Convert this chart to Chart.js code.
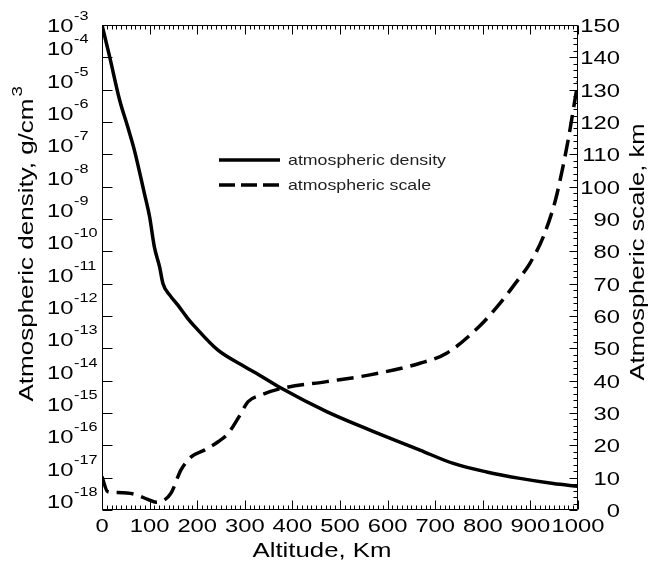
<!DOCTYPE html>
<html><head><meta charset="utf-8">
<script src="https://cdn.jsdelivr.net/npm/chart.js@4.4.1/dist/chart.umd.min.js"></script>
<style>html,body{margin:0;padding:0;background:#fff}</style>
</head><body>
<canvas id="c" width="650" height="567"></canvas>
<script>
// ---- data ----
const densityAltitude = [0, 16, 37, 54, 68, 89, 100, 110, 121, 128, 142, 159, 180, 195, 243, 300, 331, 377, 472, 563, 668, 738, 808, 878, 948, 1000];
const densityValues = [1.0e-3, 1.05e-4, 4.8e-6, 7.1e-7, 1.35e-7, 6.2e-9, 1.17e-9, 1.38e-10, 3.3e-11, 1.02e-11, 4.5e-12, 2.2e-12, 8.5e-13, 4.7e-13, 8.9e-14, 2.7e-14, 1.48e-14, 5.8e-15, 1.1e-15, 2.95e-16, 7.1e-17, 2.75e-17, 1.5e-17, 9.5e-18, 6.6e-18, 5.4e-18];
const scaleAltitude = [0, 12, 33, 68, 96, 114, 131, 145, 166, 188, 216, 244, 265, 286, 307, 335, 377, 472, 563, 668, 724, 794, 836, 871, 899, 927, 952, 966, 980, 990, 1000];
const scaleValues = [10.3, 5.7, 5.4, 4.9, 3.3, 2.4, 3.1, 5.2, 12.4, 16.5, 18.6, 21.1, 23.7, 28.4, 33.5, 35.6, 37.6, 39.7, 41.8, 45.4, 48.5, 57.0, 63.9, 70.6, 76.3, 84.5, 95.5, 104.5, 115.0, 123.7, 132.5];
const xTickValues = [0, 100, 200, 300, 400, 500, 600, 700, 800, 900, 1000];
const leftExponents = [-3, -4, -5, -6, -7, -8, -9, -10, -11, -12, -13, -14, -15, -16, -17, -18];
const rightTickValues = [0, 10, 20, 30, 40, 50, 60, 70, 80, 90, 100, 110, 120, 130, 140, 150];
const seriesLabels = ['atmospheric density', 'atmospheric scale'];
const xTitle = 'Altitude, Km';
const leftTitle = 'Atmospheric density, g/cm';
const leftTitleSup = '3';
const rightTitle = 'Atmospheric scale, km';

const FONT = '"Liberation Sans", Arial, Helvetica, sans-serif';
const STRETCH = 1.25;

function txt(ctx, s, x, y, size, align, stretch, baseline) {
  ctx.save();
  ctx.font = size + 'px ' + FONT;
  ctx.textBaseline = baseline || 'alphabetic';
  ctx.textAlign = 'left';
  const w = ctx.measureText(s).width * stretch;
  const x0 = align === 'center' ? x - w / 2 : (align === 'right' ? x - w : x);
  ctx.translate(x0, y);
  ctx.scale(stretch, 1);
  ctx.fillText(s, 0, 0);
  ctx.restore();
  return w;
}
function txtW(ctx, s, x, y, size, align, width, baseline) {
  ctx.save();
  ctx.font = size + 'px ' + FONT;
  const st = width / ctx.measureText(s).width;
  ctx.restore();
  return txt(ctx, s, x, y, size, align, st, baseline);
}

const decor = {
  id: 'decor',
  beforeDraw(chart) {
    const c = chart.ctx;
    c.save(); c.fillStyle = '#fff'; c.fillRect(0, 0, chart.width, chart.height); c.restore();
  },
  afterDraw(chart) {
    const c = chart.ctx;
    const a = chart.chartArea;
    const sx = chart.scales.x, sy = chart.scales.y, sy2 = chart.scales.y2;
    const L = Math.round(a.left) + 0.5, R = Math.round(a.right) - 0.5;
    const T = Math.round(a.top) + 0.5, B = Math.round(a.bottom) - 0.5;
    c.save();
    c.strokeStyle = '#000'; c.lineWidth = 1;
    c.beginPath();
    c.rect(L, T, R - L, B - T);
    // x ticks (bottom and top), minor every 10
    for (let v = 0; v <= 1000; v += 10) {
      const px = Math.round(sx.getPixelForValue(v)) + 0.5;
      const len = (v % 100 === 0) ? 9 : 4;
      c.moveTo(px, B); c.lineTo(px, B - len);
      c.moveTo(px, T); c.lineTo(px, T + len);
    }
    // left decade ticks
    leftExponents.forEach(e => {
      const py = Math.round(sy.getPixelForValue(Math.pow(10, e))) + 0.5;
      c.moveTo(L, py); c.lineTo(L + 10, py);
    });
    // right ticks, minor every 2
    for (let v = 0; v <= 150; v += 2) {
      const py = Math.round(sy2.getPixelForValue(v)) + 0.5;
      const len = (v % 10 === 0) ? 8 : 4;
      c.moveTo(R, py); c.lineTo(R - len, py);
    }
    c.stroke();

    c.fillStyle = '#000';
    // x tick labels
    xTickValues.forEach(v => {
      txt(c, String(v), sx.getPixelForValue(v), 532, 19, 'center', STRETCH);
    });
    // left labels 10^n
    leftExponents.forEach((e, i) => {
      const py = sy.getPixelForValue(Math.pow(10, e));
      const base = i === 0 ? 32 : py - 2;
      txt(c, '10', 47, base, 19, 'left', STRETCH);
      txt(c, '-' + Math.abs(e), 74, base - 12, 13, 'left', STRETCH);
    });
    // right labels
    rightTickValues.forEach(v => {
      const py = sy2.getPixelForValue(v);
      txt(c, String(v), 620, py + 7, 19, 'right', STRETCH);
    });
    // x title
    txtW(c, xTitle, 322, 557, 21, 'center', 139);
    // left title (rotated)
    c.save();
    c.translate(33, 250);
    c.rotate(-Math.PI / 2);
    const w = txtW(c, leftTitle, 0, 0, 21, 'center', 303);
    txt(c, leftTitleSup, w / 2 + 2, -11, 15, 'left', STRETCH);
    c.restore();
    // right title (rotated)
    c.save();
    c.translate(644, 252);
    c.rotate(-Math.PI / 2);
    txtW(c, rightTitle, 0, 0, 21, 'center', 257);
    c.restore();

    // legend
    const rows = [{y: 160, dash: []}, {y: 185, dash: [16, 6]}];
    rows.forEach((r, i) => {
      c.save();
      c.lineWidth = 3.5; c.strokeStyle = '#000';
      c.lineCap = 'butt';
      c.setLineDash(r.dash);
      c.beginPath(); c.moveTo(219, r.y); c.lineTo(280, r.y); c.stroke();
      c.restore();
      c.fillStyle = '#222';
      txtW(c, seriesLabels[i], 288, r.y + 1, 15, 'left', i === 0 ? 158 : 143, 'middle');
    });
    c.restore();
  }
};

const ctx = document.getElementById('c').getContext('2d');
new Chart(ctx, {
  type: 'line',
  data: {
    datasets: [
      {
        label: seriesLabels[0],
        data: densityAltitude.map((x, i) => ({x: x, y: densityValues[i]})),
        yAxisID: 'y',
        borderColor: '#000', borderWidth: 3.5, pointRadius: 0,
        cubicInterpolationMode: 'monotone', fill: false
      },
      {
        label: seriesLabels[1],
        data: scaleAltitude.map((x, i) => ({x: x, y: scaleValues[i]})),
        yAxisID: 'y2',
        borderColor: '#000', borderWidth: 3.5, pointRadius: 0,
        borderDash: [17, 8],
        cubicInterpolationMode: 'monotone', fill: false
      }
    ]
  },
  options: {
    responsive: false, animation: false, devicePixelRatio: 1,
    layout: {padding: {top: 25, left: 0, right: 0, bottom: 0}},
    plugins: {legend: {display: false}, tooltip: {enabled: false}, title: {display: false}},
    scales: {
      x: {type: 'linear', min: 0, max: 1000, ticks: {display: false}, grid: {display: false}, border: {display: false},
          afterFit(s) { s.height = 57; }},
      y: {type: 'logarithmic', position: 'left', min: 1e-18, max: 1e-3, ticks: {display: false}, grid: {display: false}, border: {display: false},
          afterFit(s) { s.width = 102; }},
      y2: {type: 'linear', position: 'right', min: 0, max: 150, ticks: {display: false}, grid: {display: false}, border: {display: false},
          afterFit(s) { s.width = 72; }}
    }
  },
  plugins: [decor]
});
</script>
</body></html>
